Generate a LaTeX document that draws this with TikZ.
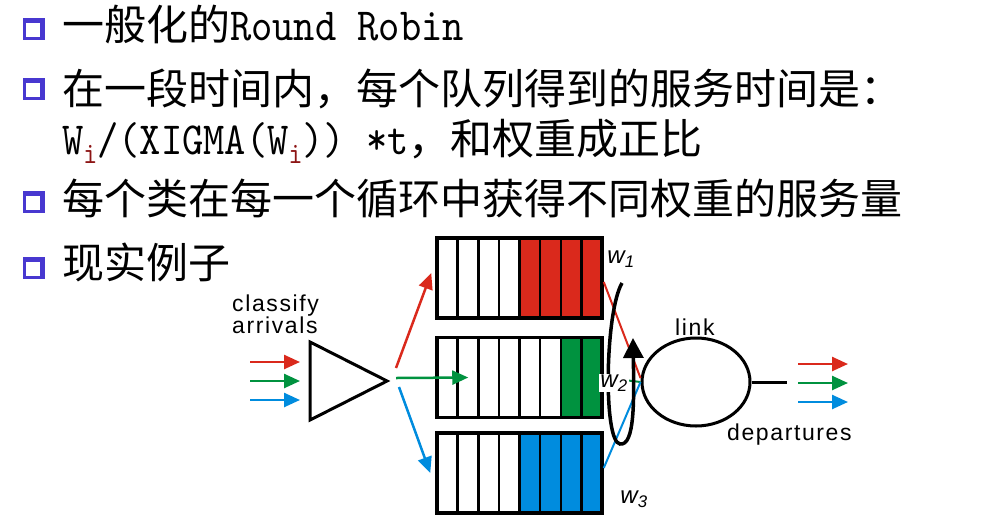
\documentclass[tikz,border=0pt]{standalone}
\usepackage{fontspec}
\newfontfamily\cjk{Noto Sans CJK SC}
\newfontfamily\helv[LetterSpace=7]{Liberation Sans}
\newfontfamily\mono[FakeStretch=0.88]{lmmono10-regular.otf}
\usetikzlibrary{arrows.meta, positioning, shapes.geometric}

\definecolor{bulletblue}{RGB}{72,56,208}
\definecolor{subred}{RGB}{140,20,20}
\definecolor{qred}{RGB}{218,41,28}
\definecolor{qgreen}{RGB}{0,146,63}
\definecolor{qblue}{RGB}{0,140,222}

\newcommand\lat[1]{{\mono\fontsize{46}{50}\selectfont #1}}
\newcommand\isub{\raisebox{-9pt}{\fontsize{30}{30}\selectfont\color{subred}i}}

\begin{document}
\begin{tikzpicture}[x=1pt, y=-1pt,
                bulletbox/.style={minimum size=22pt, inner sep=0pt, fill=bulletblue,
                    path picture={\fill[white] ([shift={(3pt,3pt)}]path picture bounding box.south west)
                        rectangle ([shift={(-5pt,-5pt)}]path picture bounding box.north east);}},
                line text/.style={anchor=base west, inner sep=0pt, font=\cjk\fontsize{42}{50}\selectfont},
                sans label/.style={anchor=base west, inner sep=0pt, font=\helv\fontsize{23}{26}\selectfont},
                w label/.style={inner sep=1pt, font=\helv\itshape\fontsize{24}{26}\selectfont},
                cell/.style={draw, line width=2.5pt, minimum width=20.625pt, minimum height=80pt, inner sep=0pt},
                queue box/.style={draw, line width=3.5pt, minimum width=165pt, minimum height=80pt, inner sep=0pt},
                flow/.style={line width=2.5pt, -{Triangle[length=16pt,width=14pt]}},
                feed/.style={line width=2pt}]

                \useasboundingbox (0,0) rectangle (987,520);

                % Bullet list
                \node[bulletbox] (b1) at (34,29) {};
                \node[bulletbox] (b2) at (34,89) {};
                \node[bulletbox] (b4) at (34,202) {};
                \node[bulletbox] (b5) at (34,268) {};
                \node[line text] (l1) at (62,40) {一般化的\lat{Round Robin}};
                \node[line text] (l2) at (62,104) {在一段时间内，每个队列得到的服务时间是：};
                \node[line text] (l3) at (62,154) {\lat{W\isub/(XIGMA(W\isub)) *t}，和权重成正比};
                \node[line text] (l4) at (62,214) {每个类在每一个循环中获得不同权重的服务量};
                \node[line text] (l5) at (62,278) {现实例子};

                % Classifier
                \node[sans label] (cls1) at (232,311) {classify};
                \node[sans label] (cls2) at (232,333) {arrivals};
                \node[draw, line width=3pt, isosceles triangle, isosceles triangle stretches,
                      minimum width=78pt, minimum height=77pt, inner sep=0pt, anchor=apex] (cls) at (391,381) {};

                % Queues
                \foreach \q/\y/\n/\c in {q1/278/4/qred, q2/377.5/6/qgreen, q3/473/4/qblue}{
                    \foreach \k in {1,...,8}{
                        \ifnum\k>\n \def\cc{\c}\else\def\cc{white}\fi
                        \node[cell, fill=\cc] (\q c\k) at ({437+(\k-0.5)*20.625},\y) {};
                    }
                    \node[queue box] (\q) at (519.5,\y) {};
                }

                % Arrivals and departures
                \foreach \c/\y in {qred/362, qgreen/381, qblue/400}{
                    \coordinate (in-\c) at (250,\y);
                    \draw[flow, \c] (in-\c) -- ([xshift=50pt]in-\c);
                    \coordinate (out-\c) at (798,{\y+2});
                    \draw[flow, \c] (out-\c) -- ([xshift=50pt]out-\c);
                }
                \draw[flow, qred] ([shift={(5pt,13pt)}]cls.apex) -- ([shift={(-4pt,5pt)}]q1.west);
                \draw[flow, qgreen] ([shift={(5pt,3pt)}]cls.apex) -- ([xshift=33pt]q2.west);
                \draw[flow, qblue] ([shift={(8pt,-6pt)}]cls.apex) -- ([xshift=-5pt]q3.west);

                % Link
                \node[draw, ellipse, line width=3pt, minimum width=108pt, minimum height=88pt] (link) at (696,382) {};
                \draw[feed, qred] ([yshift=-4pt]q1.east) -- ([yshift=4pt]link.west);
                \draw[feed, qgreen] (q2.east) -- (link.west);
                \draw[feed, qblue] ([yshift=5pt]q3.east) -- (link.west);
                \coordinate (link-out) at (787,382);
                \draw[line width=3pt] (link.east) -- (link-out);
                \node[sans label] (link label) at (675,335) {link};
                \node[sans label] (dep) at (727,440) {departures};

                % Round robin pointer
                \draw[line width=3.5pt, -{Triangle[length=20pt,width=20pt]}]
                    (622,283) .. controls (605,312) and (603,442) .. (620,444)
                    .. controls (635,446) and (634,400) .. (633,338);
                \node[w label] (w1) at (621,259) {w\textsubscript{1}};
                \node[w label, fill=white] (w2) at (614,383) {w\textsubscript{2}};
                \node[w label] (w3) at (634,499) {w\textsubscript{3}};
            \end{tikzpicture}
\end{document}
